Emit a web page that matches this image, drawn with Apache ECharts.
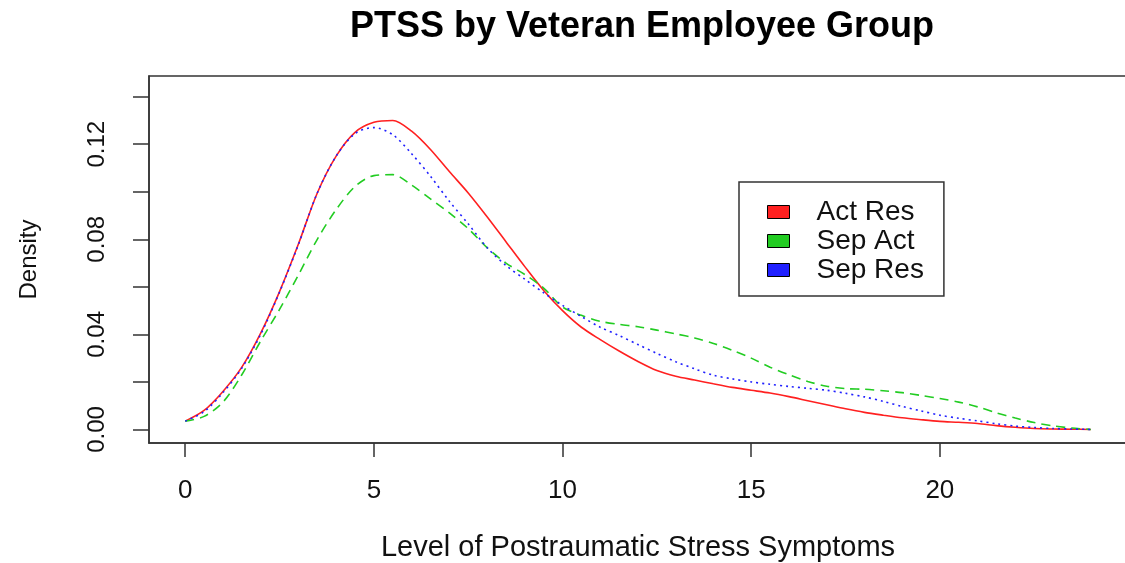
<!DOCTYPE html>
<html>
<head>
<meta charset="utf-8">
<script src="https://cdn.jsdelivr.net/npm/echarts@6/dist/echarts.min.js"></script>
<style>
  html, body { margin: 0; padding: 0; background: #fff; }
  #chart { width: 1125px; height: 563px; }
</style>
</head>
<body>
<div id="chart"></div>
<script>
// density estimates, x step 0.5 from 0 to 24
const xs = [0, 0.5, 1, 1.5, 2, 2.5, 3, 3.5, 4, 4.5, 5, 5.5, 6, 6.5, 7, 7.5, 8, 8.5, 9, 9.5,
  10, 10.5, 11, 11.5, 12, 12.5, 13, 13.5, 14, 14.5, 15, 15.5, 16, 16.5, 17, 17.5, 18, 18.5,
  19, 19.5, 20, 20.5, 21, 21.5, 22, 22.5, 23, 23.5, 24]

const actRes = [0.0035, 0.0080, 0.0160, 0.0262, 0.0405, 0.0580, 0.0780, 0.0995, 0.1150, 0.1250,
  0.1292, 0.1300, 0.1255, 0.1178, 0.1085, 0.0995, 0.0895, 0.0790, 0.0685, 0.0585,
  0.0500, 0.0430, 0.0378, 0.0330, 0.0286, 0.0248, 0.0224, 0.0208, 0.0192, 0.0177,
  0.0165, 0.0153, 0.0138, 0.0121, 0.0104, 0.0087, 0.0072, 0.0060, 0.0049, 0.0041,
  0.0034, 0.0030, 0.0025, 0.0016, 0.0009, 0.0004, 0.0002, 0.0001, 0.0000]

const sepAct = [0.0035, 0.0055, 0.0115, 0.0230, 0.0372, 0.0505, 0.0650, 0.0800, 0.0925, 0.1022,
  0.1068, 0.1072, 0.1028, 0.0970, 0.0911, 0.0845, 0.0765, 0.0700, 0.0652, 0.0595,
  0.0515, 0.0480, 0.0455, 0.0442, 0.0432, 0.0418, 0.0402, 0.0385, 0.0362, 0.0333,
  0.0300, 0.0262, 0.0230, 0.0202, 0.0182, 0.0172, 0.0169, 0.0163, 0.0155, 0.0143,
  0.0130, 0.0115, 0.0095, 0.0070, 0.0048, 0.0029, 0.0015, 0.0006, 0.0000]

const sepRes = [0.0035, 0.0075, 0.0155, 0.0258, 0.0400, 0.0578, 0.0778, 0.0995, 0.1150, 0.1245,
  0.1270, 0.1240, 0.1160, 0.1065, 0.0960, 0.0865, 0.0765, 0.0690, 0.0632, 0.0575,
  0.0522, 0.0475, 0.0430, 0.0395, 0.0357, 0.0320, 0.0285, 0.0255, 0.0228, 0.0213,
  0.0200, 0.0190, 0.0181, 0.0173, 0.0165, 0.0152, 0.0137, 0.0118, 0.0097, 0.0078,
  0.0060, 0.0047, 0.0036, 0.0024, 0.0014, 0.0008, 0.0004, 0.0002, 0.0000]

const xTicks = [0, 5, 10, 15, 20]
const yTicks = [0, 0.02, 0.04, 0.06, 0.08, 0.10, 0.12, 0.14]
const yLabels = [0, 0.04, 0.08, 0.12]

const FONT = '"Liberation Sans", Arial, sans-serif'

const pairs = ys => xs.map((x, i) => [x, ys[i]])

const lineSeries = (name, ys, color, type) => ({
  name: name,
  type: 'line',
  data: pairs(ys),
  smooth: 0.3,
  showSymbol: false,
  symbol: 'none',
  color: color,
  lineStyle: { width: 1.6, color: color, type: type },
  itemStyle: { color: color },
  emphasis: { disabled: true }
})

const chart = echarts.init(document.getElementById('chart'))

chart.setOption({
  animation: false,
  backgroundColor: '#fff',
  title: {
    text: 'PTSS by Veteran Employee Group',
    left: 637,
    textAlign: 'center',
    top: 4,
    textStyle: { fontFamily: FONT, fontSize: 36, fontWeight: 'bold', color: '#000' }
  },
  grid: {
    left: 149,
    top: 76,
    width: 978,
    height: 367,
    containLabel: false,
    outerBoundsMode: 'none',
    show: true,
    borderColor: '#333',
    borderWidth: 1.5,
    backgroundColor: 'transparent'
  },
  legend: {
    orient: 'vertical',
    left: 739,
    top: 182,
    padding: [16, 20, 12, 28],
    itemGap: 1,
    itemWidth: 22,
    itemHeight: 13,
    icon: 'rect',
    borderColor: '#333',
    borderWidth: 1.5,
    backgroundColor: '#fff',
    itemStyle: { borderColor: '#000', borderWidth: 1 },
    textStyle: { fontFamily: FONT, fontSize: 28, color: '#111', padding: [0, 0, 0, 22] },
    data: ['Act Res', 'Sep Act', 'Sep Res']
  },
  xAxis: {
    type: 'value',
    min: -0.96,
    max: 24.96,
    name: 'Level of Postraumatic Stress Symptoms',
    nameLocation: 'middle',
    nameGap: 90,
    nameTextStyle: { fontFamily: FONT, fontSize: 29, color: '#111' },
    axisLine: { show: true, onZero: false, lineStyle: { color: '#333', width: 1.5 } },
    axisTick: {
      show: true,
      inside: false,
      length: 14,
      customValues: xTicks,
      lineStyle: { color: '#333', width: 1.5 }
    },
    axisLabel: {
      customValues: xTicks,
      margin: 35,
      fontFamily: FONT,
      fontSize: 26,
      color: '#111'
    },
    splitLine: { show: false }
  },
  yAxis: {
    type: 'value',
    min: -0.0057,
    max: 0.1487,
    name: 'Density',
    nameLocation: 'middle',
    nameGap: 108,
    nameTextStyle: { fontFamily: FONT, fontSize: 24, color: '#111' },
    axisLine: { show: true, onZero: false, lineStyle: { color: '#333', width: 1.5 } },
    axisTick: {
      show: true,
      inside: false,
      length: 16,
      customValues: yTicks,
      lineStyle: { color: '#333', width: 1.5 }
    },
    axisLabel: {
      customValues: yLabels,
      rotate: 90,
      margin: 40,
      fontFamily: FONT,
      fontSize: 24,
      color: '#111',
      formatter: v => v.toFixed(2)
    },
    splitLine: { show: false }
  },
  series: [
    lineSeries('Act Res', actRes, '#ff2020', 'solid'),
    lineSeries('Sep Act', sepAct, '#22cc22', [9, 6]),
    lineSeries('Sep Res', sepRes, '#2020ff', [2, 4])
  ]
})

window.addEventListener('resize', () => chart.resize())
</script>
</body>
</html>
